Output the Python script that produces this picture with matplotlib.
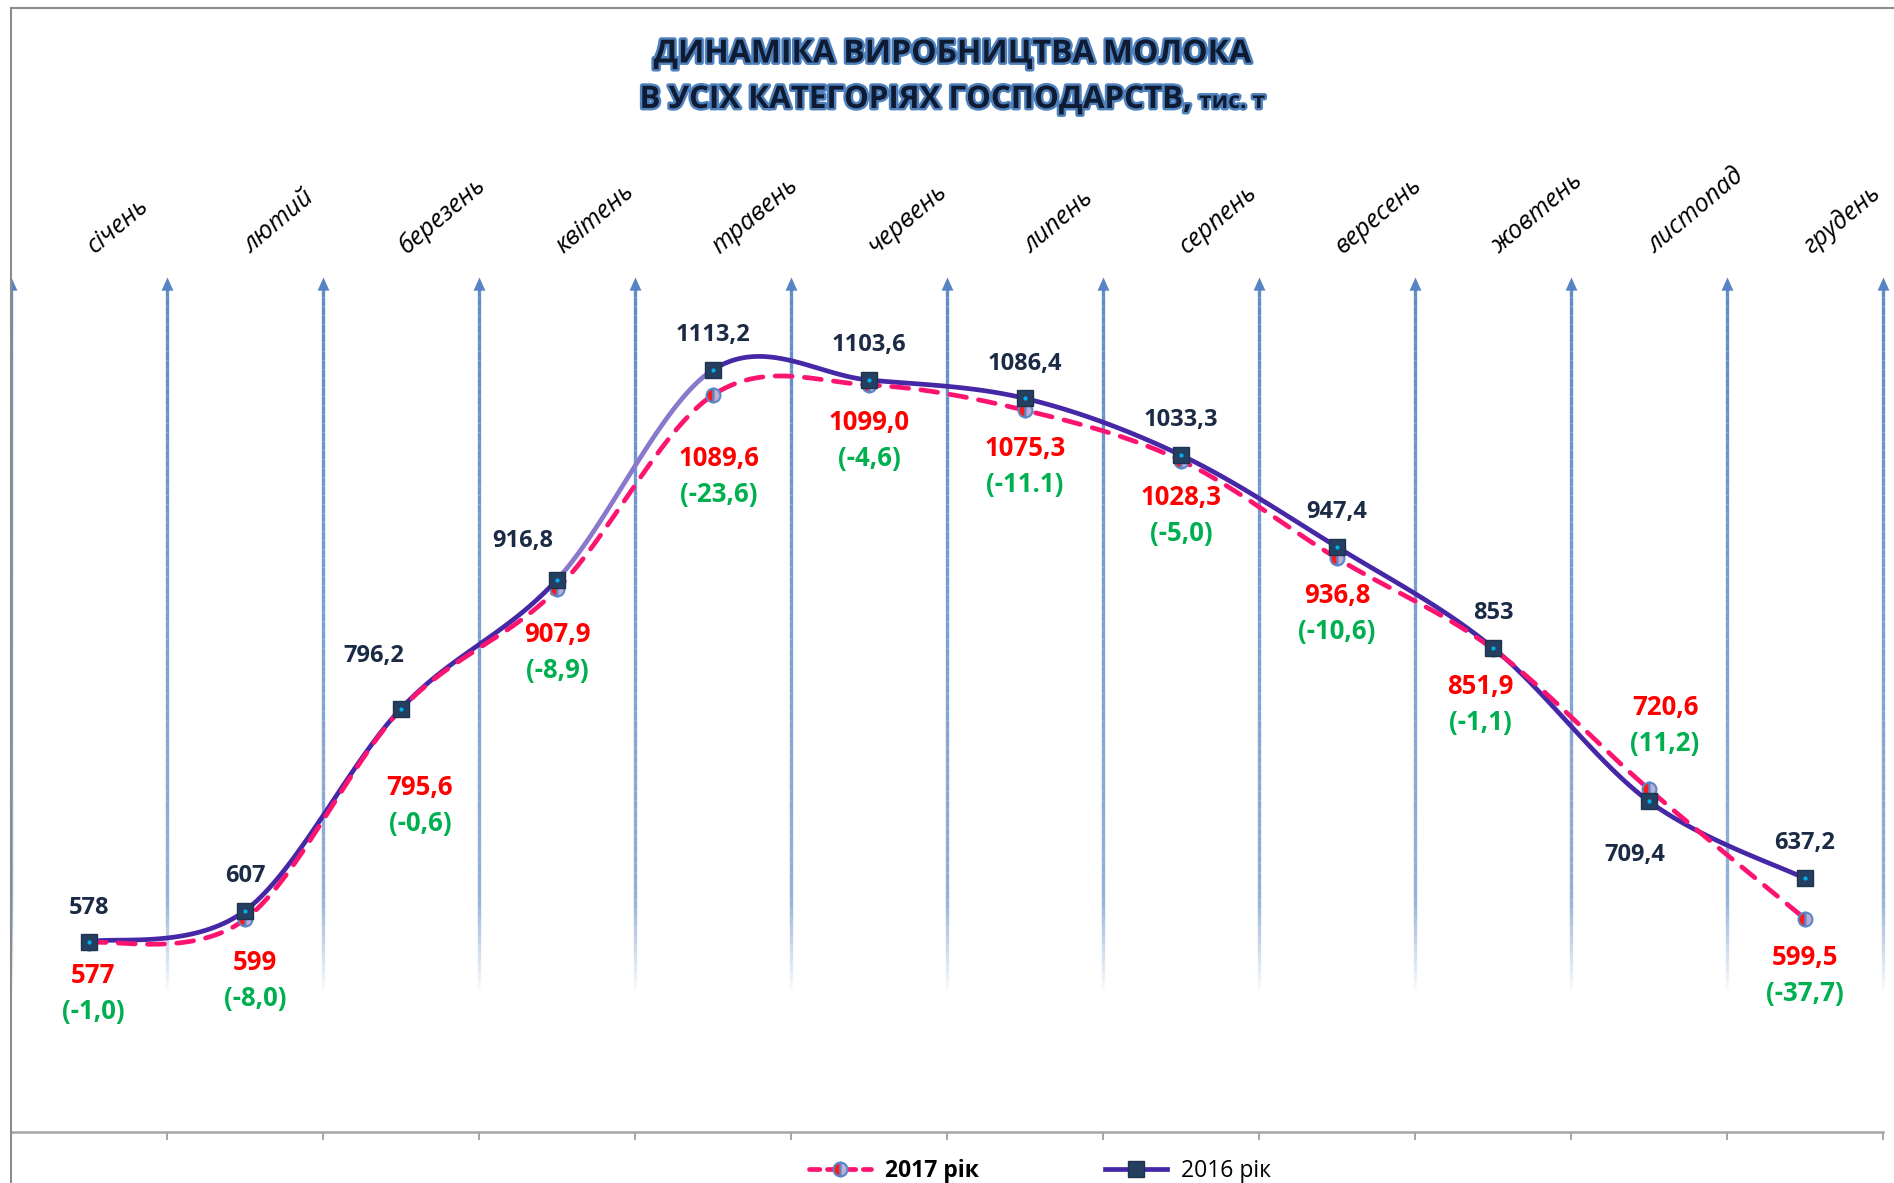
import numpy as np
import matplotlib
matplotlib.use('Agg')
import matplotlib.pyplot as plt
import matplotlib.patheffects as pe
from matplotlib.lines import Line2D
from matplotlib.collections import LineCollection

plt.rcParams['font.family'] = ['Open Sans', 'DejaVu Sans']

months = ['січень', 'лютий', 'березень', 'квітень', 'травень', 'червень',
          'липень', 'серпень', 'вересень', 'жовтень', 'листопад', 'грудень']
y2016 = [578, 607, 796.2, 916.8, 1113.2, 1103.6, 1086.4, 1033.3, 947.4, 853, 709.4, 637.2]
y2017 = [577, 599, 795.6, 907.9, 1089.6, 1099.0, 1075.3, 1028.3, 936.8, 851.9, 720.6, 599.5]
lab2016 = ['578', '607', '796,2', '916,8', '1113,2', '1103,6', '1086,4', '1033,3',
           '947,4', '853', '709,4', '637,2']
lab2017 = ['577', '599', '795,6', '907,9', '1089,6', '1099,0', '1075,3', '1028,3',
           '936,8', '851,9', '720,6', '599,5']
labdiff = ['(-1,0)', '(-8,0)', '(-0,6)', '(-8,9)', '(-23,6)', '(-4,6)', '(-11.1)',
           '(-5,0)', '(-10,6)', '(-1,1)', '(11,2)', '(-37,7)']

# label offsets in pixels
off2016 = [(0, 34), (0, 35), (-27, 53), (-34, 39), (0, 35), (0, 35), (0, 34),
           (0, 35), (0, 35), (0, 35), (-14, -54), (0, 35)]
off2017 = [(4, -33), (10, -43), (19, -78), (0, -45), (6, -64), (0, -38), (0, -38),
           (0, -37), (0, -37), (-13, -37), (16, 82), (0, -39)]


def smooth_segments(xs, ys, n=40):
    # excel-like smoothed line (catmull-rom bezier)
    p = np.column_stack([xs, ys]).astype(float)
    p = np.vstack([p[0], p, p[-1]])
    t = np.linspace(0, 1, n)[:, None]
    segs = []
    for i in range(1, len(p) - 2):
        p0, p1, p2, p3 = p[i - 1], p[i], p[i + 1], p[i + 2]
        c1 = p1 + (p2 - p0) / 6
        c2 = p2 - (p3 - p1) / 6
        seg = (1 - t)**3 * p1 + 3 * (1 - t)**2 * t * c1 + 3 * (1 - t) * t**2 * c2 + t**3 * p2
        segs.append(seg)
    return segs


W, H = 1894, 1183
fig = plt.figure(figsize=(W / 100, H / 100), dpi=100)
ax = fig.add_axes([11 / W, 51 / H, 1872 / W, 855 / H])
x = np.arange(len(months))
ax.set_xlim(-0.5, 11.5)
ax.set_ylim(400, 1200)

# vertical arrow gridlines with faded bottom
grid_col = '#5785c4'
for k, gx in enumerate(np.arange(-0.5, 12, 1)):
    ys = np.linspace(525, 1190, 80)
    segs = [[(gx, ys[j]), (gx, ys[j + 1])] for j in range(len(ys) - 1)]
    alphas = np.clip((ys[:-1] - 525) / 90, 0, 1) * (0.6 + 0.35 * (ys[:-1] - 525) / 665)
    cols = [matplotlib.colors.to_rgba(grid_col, a) for a in alphas]
    lc = LineCollection(segs, colors=cols, linewidths=2.4, zorder=1, clip_on=(k == 0))
    ax.add_collection(lc)
    ax.plot(gx, 1200, marker=[(-0.45, -1.0), (0.45, -1.0), (0, 0)], ms=19,
            color=grid_col, mew=0, zorder=1, clip_on=(k == 0))

# 2016 line
segs16 = smooth_segments(x, y2016)
for i, s in enumerate(segs16):
    c = '#8a78cc' if i == 3 else '#4628a6'
    ax.plot(s[:, 0], s[:, 1], color=c, lw=3.4, solid_capstyle='round', zorder=3)

# 2017 line
s17 = np.vstack([s if i == 0 else s[1:] for i, s in enumerate(smooth_segments(x, y2017))])
ax.plot(s17[:, 0], s17[:, 1], color='#fc1470', lw=3.4, ls=(0, (3.6, 2.6)),
        dash_capstyle='round', zorder=4)
ax.plot(x, y2017, ls='none', marker='o', ms=10, fillstyle='left', mfc='#ff1a1a',
        mfcalt='#bcaed8', mec='#5b86c5', mew=1.5, zorder=5)

ax.plot(x, y2016, ls='none', marker='s', ms=11, mfc='#243f60', mec='#1d3350',
        mew=1, zorder=6)
ax.plot(x, y2016, ls='none', marker='o', ms=2, color='#00b0f0', zorder=7)

for i in range(len(x)):
    ax.annotate(lab2016[i], (x[i], y2016[i]), xytext=off2016[i], textcoords='offset pixels',
                ha='center', va='center', fontsize=17, fontweight='bold', color='#1c2b45',
                zorder=8)
    dx, dy = off2017[i]
    ax.annotate(lab2017[i], (x[i], y2017[i]), xytext=(dx, dy), textcoords='offset pixels',
                ha='center', va='center', fontsize=18.5, fontweight='bold', color='#ff0000',
                zorder=8)
    ax.annotate(labdiff[i], (x[i], y2017[i]), xytext=(dx, dy - 36), textcoords='offset pixels',
                ha='center', va='center', fontsize=18.5, fontweight='bold', color='#00b050',
                zorder=8)

# month labels on top
for i, m in enumerate(months):
    ax.text(x[i] + 0.04, 1.027, m, transform=ax.get_xaxis_transform(), rotation=40,
            rotation_mode='anchor', ha='left', va='baseline', fontsize=18,
            fontstyle='italic', color='black')

for side in ['left', 'right', 'top']:
    ax.spines[side].set_visible(False)
ax.spines['bottom'].set_color('#a6a6a6')
ax.spines['bottom'].set_linewidth(1.8)
ax.set_xticks(np.arange(-0.5, 12, 1))
ax.set_xticklabels([])
ax.tick_params(axis='x', length=6, width=1.4, color='#a6a6a6', direction='out')
ax.set_yticks([])
ax.patch.set_alpha(0)

# chart border
fig.add_artist(Line2D([11 / W, 11 / W], [0, 1 - 8 / H], transform=fig.transFigure,
                      color='#8c8c8c', lw=1.5))
fig.add_artist(Line2D([11 / W, 1], [1 - 8 / H, 1 - 8 / H], transform=fig.transFigure,
                      color='#8c8c8c', lw=1.5))

# title
tpe = [pe.withStroke(linewidth=3.5, foreground='#4f81bd')]
fig.text(953 / W, 1 - 54 / H, 'ДИНАМІКА ВИРОБНИЦТВА МОЛОКА', ha='center', va='center',
         fontsize=23, fontweight='bold', color='#0f1b33', path_effects=tpe)
fig.text(1192 / W, 1 - 100 / H, 'В УСІХ КАТЕГОРІЯХ ГОСПОДАРСТВ,', ha='right', va='center',
         fontsize=22.5, fontweight='bold', color='#0f1b33', path_effects=tpe)
fig.text(1199 / W, 1 - 102 / H, 'тис. т', ha='left', va='center',
         fontsize=16.5, fontweight='bold', color='#0f1b33', path_effects=tpe)

# legend
h17 = Line2D([], [], color='#fc1470', lw=3.4, ls=(0, (2.2, 1.6)), dash_capstyle='round',
             marker='o', ms=10, fillstyle='left', mfc='#ff1a1a', mfcalt='#bcaed8',
             mec='#5b86c5', mew=1.5)
h16 = Line2D([], [], color='#4628a6', lw=3.4, marker='s', ms=11, mfc='#243f60', mec='#1d3350')
leg = fig.legend([h17, h16], ['2017 рік', '2016 рік'], loc='center', ncol=2,
                 bbox_to_anchor=(1040 / W, 12 / H), frameon=False, fontsize=16.5,
                 handlelength=2.7, handletextpad=0.6, columnspacing=5.5)
leg.get_texts()[0].set_fontweight('bold')

fig.savefig('out.png', dpi=100)
